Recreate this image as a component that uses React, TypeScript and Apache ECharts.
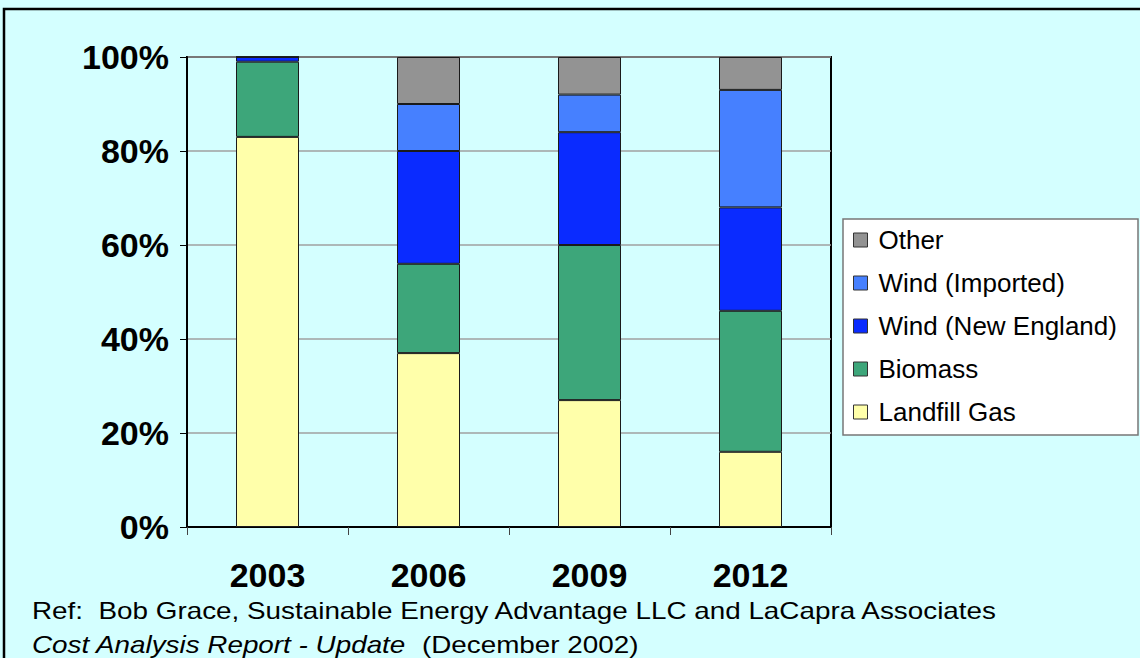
import React, { useEffect, useRef } from "react";
import * as echarts from "echarts";

const categories = ["2003", "2006", "2009", "2012"];
const landfillGas = [83, 37, 27, 16];
const biomass = [16, 19, 33, 30];
const windNewEngland = [1, 24, 24, 22];
const windImported = [0, 10, 8, 25];
const other = [0, 10, 8, 7];
const yTicks = [0, 20, 40, 60, 80, 100];
const legendOrder = ["Other", "Wind (Imported)", "Wind (New England)", "Biomass", "Landfill Gas"];
const footLine1 = "Ref:  Bob Grace, Sustainable Energy Advantage LLC and LaCapra Associates";
const footItalic = "Cost Analysis Report - Update";
const footRest = "  (December 2002)";

const BG = "#D4FFFF";
const FONT = "Liberation Sans, Arial, sans-serif";

export default function App() {
  const ref = useRef<HTMLDivElement>(null);
  useEffect(() => {
    if (!ref.current) return;
    const chart = echarts.init(ref.current, undefined, { renderer: "svg" });
    const mk = (name: string, data: number[], color: string) => ({
      name,
      type: "bar",
      stack: "total",
      data,
      barWidth: 63,
      itemStyle: { color, borderColor: "#1a1a1a", borderWidth: 1 },
      emphasis: { disabled: true },
    });
    chart.setOption({
      animation: false,
      backgroundColor: BG,
      textStyle: { fontFamily: FONT },
      grid: {
        left: 187,
        right: 309,
        top: 57,
        bottom: 131,
        show: true,
        borderColor: "#000",
        borderWidth: 2,
        backgroundColor: BG,
      },
      xAxis: {
        type: "category",
        data: categories,
        axisLine: { show: true, lineStyle: { color: "#000", width: 2 } },
        axisTick: { show: true, alignWithLabel: false, length: 8, lineStyle: { color: "#444", width: 1 } },
        axisLabel: {
          color: "#000",
          fontSize: 34,
          fontWeight: "bold",
          margin: 31,
          fontFamily: FONT,
        },
        splitLine: { show: false },
      },
      yAxis: {
        type: "value",
        min: yTicks[0],
        max: yTicks[yTicks.length - 1],
        interval: 20,
        axisLine: { show: true, lineStyle: { color: "#000", width: 2 } },
        axisTick: { show: true, length: 7, lineStyle: { color: "#000", width: 1 } },
        axisLabel: {
          color: "#000",
          fontSize: 34,
          fontWeight: "bold",
          margin: 18,
          formatter: "{value}%",
          fontFamily: FONT,
        },
        splitLine: { show: true, lineStyle: { color: "#A0A0A0", width: 1.5 } },
      },
      legend: {
        orient: "vertical",
        left: 853,
        top: 227,
        data: legendOrder,
        icon: "rect",
        itemWidth: 14,
        itemHeight: 14,
        itemGap: 17,
        selectedMode: false,
        padding: 0,
        itemStyle: { borderColor: "#333", borderWidth: 1 },
        textStyle: {
          color: "#000",
          fontSize: 26,
          lineHeight: 25,
          padding: [0, 0, 0, 6],
          fontFamily: FONT,
        },
      },
      graphic: [
        {
          type: "rect",
          shape: { x: 4, y: 9, width: 1200, height: 700 },
          style: { fill: "none", stroke: "#000", lineWidth: 2.5 },
          z: -10,
          silent: true,
        },
        {
          type: "rect",
          shape: { x: 843, y: 219, width: 295, height: 216 },
          style: { fill: "#fff", stroke: "#777", lineWidth: 1.5 },
          z: -5,
          silent: true,
        },
        {
          type: "text",
          x: 32,
          y: 611,
          scaleX: 1.16,
          style: {
            text: footLine1,
            fontSize: 24,
            fill: "#000",
            verticalAlign: "middle",
            fontFamily: FONT,
          },
          silent: true,
        },
        {
          type: "text",
          x: 32,
          y: 645,
          scaleX: 1.16,
          style: {
            text: "{i|" + footItalic + "}{n|" + footRest + "}",
            fontSize: 24,
            fill: "#000",
            verticalAlign: "middle",
            fontFamily: FONT,
            rich: {
              i: { fontStyle: "italic", fontSize: 24, fontFamily: FONT },
              n: { fontSize: 24, fontFamily: FONT },
            },
          },
          silent: true,
        },
      ],
      series: [
        mk("Landfill Gas", landfillGas, "#FFFFAA"),
        mk("Biomass", biomass, "#3DA67A"),
        mk("Wind (New England)", windNewEngland, "#0A2BFF"),
        mk("Wind (Imported)", windImported, "#4680FF"),
        mk("Other", other, "#939393"),
      ],
    });
    return () => chart.dispose();
  }, []);
  return (
    <div
      ref={ref}
      style={{ position: "fixed", left: 0, top: 0, width: 1140, height: 658 }}
    />
  );
}
